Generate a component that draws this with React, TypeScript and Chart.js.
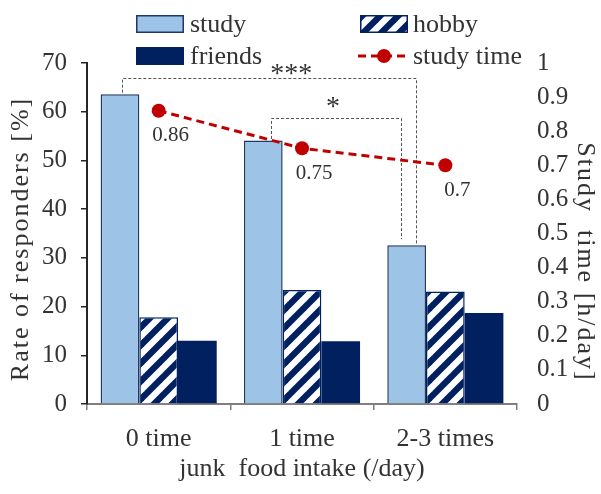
import React, { useEffect, useRef } from 'react';
import { Chart, registerables } from 'chart.js';

Chart.register(...registerables);

const categories = ['0 time', '1 time', '2-3 times'];
const studyRates = [63.6, 54.1, 32.6];
const hobbyRates = [17.8, 23.4, 23.1];
const friendsRates = [13.0, 12.9, 18.7];
const studyTime = [0.86, 0.75, 0.7];
const studyTimeLabels = ['0.86', '0.75', '0.7'];
const seriesNames = ['study', 'hobby', 'friends', 'study time'];
const leftAxis = { min: 0, max: 70, step: 10 };
const rightAxis = { min: 0, max: 1, step: 0.1 };
// significance brackets between study bars
const bracketFrom = [0, 1];
const bracketTo = [2, 2];
const bracketTop = [67, 58.8];
const bracketLabels = ['***', '*'];

const FONT = '"Liberation Serif", "Times New Roman", serif';
const TEXT = '#333333';
const NAVY = '#002060';
const LIGHT = '#9DC3E6';
const RED = '#C00000';

function makeHatch(): CanvasPattern | string {
  const s = 18;
  const c = document.createElement('canvas');
  c.width = s;
  c.height = s;
  const g = c.getContext('2d');
  if (!g) return NAVY;
  g.fillStyle = '#ffffff';
  g.fillRect(0, 0, s, s);
  g.strokeStyle = NAVY;
  g.lineWidth = 6.4;
  g.lineCap = 'square';
  for (const a of [-s, 0, s]) {
    g.beginPath();
    g.moveTo(a, s);
    g.lineTo(a + s, 0);
    g.stroke();
  }
  const p = g.createPattern(c, 'repeat');
  return p || NAVY;
}

export default function App() {
  const ref = useRef<HTMLCanvasElement | null>(null);

  useEffect(() => {
    const canvas = ref.current;
    if (!canvas) return;
    const hatch = makeHatch();

    const overlay = {
      id: 'overlay',
      beforeDatasetsDraw(chart: any) {
        const ctx = chart.ctx;
        const y = chart.scales.y;
        const meta = chart.getDatasetMeta(0);
        ctx.save();
        ctx.strokeStyle = '#555555';
        ctx.lineWidth = 1;
        ctx.setLineDash([3, 2]);
        const fromShift = [2, 8];
        const toShift = [9, -6];
        const gapBottom = [1.5, 6];
        for (let i = 0; i < bracketLabels.length; i++) {
          const b0 = meta.data[bracketFrom[i]];
          const b1 = meta.data[bracketTo[i]];
          const x0 = Math.round(b0.x + fromShift[i]) + 0.5;
          const x1 = Math.round(b1.x + toShift[i]) + 0.5;
          const yt = Math.round(y.getPixelForValue(bracketTop[i])) + 0.5;
          const y0 = y.getPixelForValue(studyRates[bracketFrom[i]]) - 1.5;
          const y1 = y.getPixelForValue(studyRates[bracketTo[i]]) - gapBottom[i];
          ctx.beginPath();
          ctx.moveTo(x0, y0);
          ctx.lineTo(x0, yt);
          ctx.lineTo(x1, yt);
          ctx.lineTo(x1, y1);
          ctx.stroke();
        }
        ctx.setLineDash([]);
        ctx.fillStyle = TEXT;
        ctx.font = `28px ${FONT}`;
        ctx.textAlign = 'center';
        ctx.textBaseline = 'middle';
        const labelShift = [28, -2];
        const labelRise = [3, 10];
        for (let i = 0; i < bracketLabels.length; i++) {
          const b0 = meta.data[bracketFrom[i]];
          const b1 = meta.data[bracketTo[i]];
          const cx = (b0.x + b1.x) / 2 + labelShift[i];
          const cy = y.getPixelForValue(bracketTop[i]) - labelRise[i];
          ctx.fillText(bracketLabels[i], cx, cy);
        }
        ctx.restore();
      },
      afterDatasetsDraw(chart: any) {
        const ctx = chart.ctx;
        const meta = chart.getDatasetMeta(3);
        ctx.save();
        ctx.fillStyle = TEXT;
        ctx.font = `21px ${FONT}`;
        ctx.textAlign = 'center';
        ctx.textBaseline = 'middle';
        meta.data.forEach((p: any, i: number) => {
          ctx.fillText(studyTimeLabels[i], p.x + 12, p.y + 25);
        });
        ctx.restore();
      },
      afterDraw(chart: any) {
        const ctx = chart.ctx;
        ctx.save();
        // axis titles
        ctx.fillStyle = TEXT;
        ctx.font = `26px ${FONT}`;
        ctx.textAlign = 'center';
        ctx.textBaseline = 'middle';
        (ctx as any).letterSpacing = '2px';
        ctx.save();
        ctx.translate(21, 239);
        ctx.rotate(-Math.PI / 2);
        ctx.fillText('Rate of responders [%]', 0, 0);
        ctx.restore();
        ctx.save();
        ctx.translate(585, 262);
        ctx.rotate(Math.PI / 2);
        ctx.fillText('Study  time [h/day]', 0, 0);
        ctx.restore();
        (ctx as any).letterSpacing = '0px';

        // legend
        const boxW = 48;
        const boxH = 18;
        const col = [136, 360];
        const rowY = [24, 56];
        ctx.font = `26px ${FONT}`;
        ctx.textAlign = 'left';
        ctx.textBaseline = 'middle';
        const drawBox = (x: number, cy: number, fill: any, stroke: string | null) => {
          ctx.fillStyle = fill;
          ctx.fillRect(x, cy - boxH / 2, boxW, boxH);
          if (stroke) {
            ctx.strokeStyle = stroke;
            ctx.lineWidth = 1.5;
            ctx.strokeRect(x + 0.75, cy - boxH / 2 + 0.75, boxW - 1.5, boxH - 1.5);
          }
        };
        drawBox(col[0], rowY[0], LIGHT, '#1F3864');
        drawBox(col[1], rowY[0], hatch, NAVY);
        drawBox(col[0], rowY[1], NAVY, null);
        ctx.strokeStyle = RED;
        ctx.lineWidth = 3;
        ctx.setLineDash([8, 5]);
        ctx.beginPath();
        ctx.moveTo(col[1] - 2, rowY[1]);
        ctx.lineTo(col[1] + 50, rowY[1]);
        ctx.stroke();
        ctx.setLineDash([]);
        ctx.fillStyle = RED;
        ctx.beginPath();
        ctx.arc(col[1] + 24, rowY[1], 7, 0, Math.PI * 2);
        ctx.fill();
        ctx.fillStyle = TEXT;
        ctx.fillText(seriesNames[0], col[0] + 54, rowY[0] + 1);
        ctx.fillText(seriesNames[1], col[1] + 53, rowY[0] + 1);
        ctx.fillText(seriesNames[2], col[0] + 54, rowY[1] + 1);
        ctx.fillText(seriesNames[3], col[1] + 53, rowY[1] + 1);
        ctx.restore();
      },
    };

    const chart = new Chart(canvas, {
      type: 'bar',
      data: {
        labels: categories,
        datasets: [
          {
            type: 'bar',
            label: seriesNames[0],
            data: studyRates,
            backgroundColor: LIGHT,
            borderColor: '#1F3864',
            borderWidth: 1.5,
            yAxisID: 'y',
            order: 2,
          },
          {
            type: 'bar',
            label: seriesNames[1],
            data: hobbyRates,
            backgroundColor: hatch as any,
            borderColor: NAVY,
            borderWidth: 1.5,
            yAxisID: 'y',
            order: 2,
          },
          {
            type: 'bar',
            label: seriesNames[2],
            data: friendsRates,
            backgroundColor: NAVY,
            borderColor: NAVY,
            borderWidth: 0,
            yAxisID: 'y',
            order: 2,
          },
          {
            type: 'line',
            label: seriesNames[3],
            data: studyTime,
            borderColor: RED,
            borderWidth: 3,
            borderDash: [8, 5],
            pointRadius: 7,
            pointBackgroundColor: RED,
            pointBorderColor: RED,
            pointBorderWidth: 0,
            fill: false,
            tension: 0,
            yAxisID: 'y1',
            order: 1,
          } as any,
        ],
      },
      options: {
        responsive: false,
        animation: false,
        devicePixelRatio: 1,
        layout: { padding: { top: 63, left: 0, right: 0, bottom: 0 } },
        datasets: {
          bar: { categoryPercentage: 0.81, barPercentage: 1 },
        } as any,
        plugins: {
          legend: { display: false },
          tooltip: { enabled: false },
        },
        scales: {
          x: {
            offset: true,
            grid: {
              offset: true,
              drawOnChartArea: false,
              drawTicks: true,
              tickLength: 6,
              color: '#7F7F7F',
              lineWidth: 1.5,
            },
            border: { color: '#7F7F7F', width: 2 },
            ticks: {
              color: TEXT,
              font: { family: FONT, size: 26 },
              padding: 14,
              maxRotation: 0,
            },
            title: {
              display: true,
              text: 'junk  food intake (/day)',
              color: TEXT,
              font: { family: FONT, size: 26 },
              padding: { top: 0, bottom: 9 },
            },
            afterFit: (s: any) => {
              s.height = 90;
            },
          },
          y: {
            position: 'left',
            min: leftAxis.min,
            max: leftAxis.max,
            grid: {
              drawOnChartArea: false,
              drawTicks: true,
              tickLength: 6,
              color: '#262626',
              lineWidth: 1.5,
            },
            border: { color: '#262626', width: 2 },
            ticks: {
              stepSize: leftAxis.step,
              color: TEXT,
              font: { family: FONT, size: 25 },
              padding: 14,
            },
            afterFit: (s: any) => {
              s.width = 87;
            },
          },
          y1: {
            position: 'right',
            min: rightAxis.min,
            max: rightAxis.max,
            grid: { display: false, drawTicks: false, drawOnChartArea: false },
            border: { display: false },
            ticks: {
              stepSize: rightAxis.step,
              color: TEXT,
              font: { family: FONT, size: 25 },
              padding: 20,
              callback: (v: any) => String(Math.round(Number(v) * 10) / 10),
            },
            afterFit: (s: any) => {
              s.width = 84;
            },
          },
        },
      },
      plugins: [overlay],
    });

    return () => {
      chart.destroy();
    };
  }, []);

  return (
    <div style={{ position: 'absolute', left: 0, top: 0, width: 601, height: 494, background: '#ffffff' }}>
      <canvas ref={ref} width={601} height={494} style={{ display: 'block' }} />
    </div>
  );
}
